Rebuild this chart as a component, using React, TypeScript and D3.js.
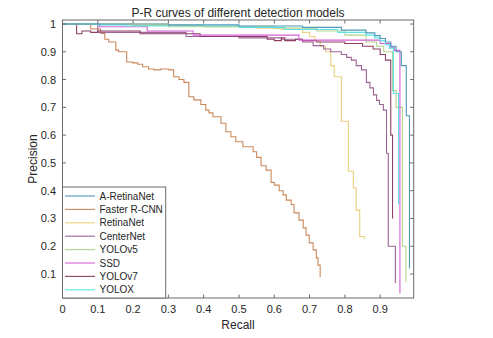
import React from "react";
import * as d3 from "d3";

const W = 493;
const H = 338;

const title = "P-R curves of different detection models";
const xLabel = "Recall";
const yLabel = "Precision";
const xTicks = [0, 0.1, 0.2, 0.3, 0.4, 0.5, 0.6, 0.7, 0.8, 0.9];
const yTicks = [0.1, 0.2, 0.3, 0.4, 0.5, 0.6, 0.7, 0.8, 0.9, 1];

const models = ["A-RetinaNet", "Faster R-CNN", "RetinaNet", "CenterNet", "YOLOv5", "SSD", "YOLOv7", "YOLOX"];
const colors = ["#4e9ab8", "#c9895b", "#e9cf7e", "#9d6496", "#b4d38a", "#d35fd6", "#8e3f66", "#5fe3e6"];

const aRetinaR = [0, 0.3, 0.5, 0.68, 0.79, 0.86, 0.885, 0.9, 0.915, 0.93, 0.945, 0.96, 0.974, 0.983];
const aRetinaP = [1.0, 0.997, 0.993, 0.988, 0.978, 0.968, 0.958, 0.948, 0.935, 0.92, 0.9, 0.85, 0.67, 0.12];

const fasterR = [0, 0.08, 0.108, 0.12, 0.131, 0.151, 0.159, 0.182, 0.199, 0.213, 0.227, 0.244, 0.259, 0.278, 0.301, 0.315, 0.33, 0.344, 0.358, 0.372, 0.392, 0.406, 0.415, 0.426, 0.449, 0.463, 0.477, 0.491, 0.511, 0.54, 0.55, 0.5625, 0.577, 0.591, 0.6, 0.614, 0.625, 0.634, 0.648, 0.656, 0.67, 0.682, 0.69, 0.699, 0.71, 0.719, 0.724, 0.73];
const fasterP = [1.0, 0.982, 0.966, 0.945, 0.935, 0.906, 0.9, 0.863, 0.86, 0.855, 0.846, 0.838, 0.835, 0.838, 0.835, 0.81, 0.8, 0.79, 0.738, 0.727, 0.71, 0.69, 0.68, 0.666, 0.643, 0.612, 0.594, 0.576, 0.558, 0.54, 0.52, 0.49, 0.474, 0.43, 0.42, 0.4, 0.385, 0.366, 0.35, 0.32, 0.294, 0.266, 0.24, 0.212, 0.187, 0.158, 0.132, 0.089];

const retinaR = [0, 0.3, 0.55, 0.62, 0.68, 0.7, 0.715, 0.73, 0.745, 0.76, 0.77, 0.79, 0.81, 0.824, 0.832, 0.842, 0.855];
const retinaP = [1.0, 0.99, 0.985, 0.98, 0.97, 0.955, 0.94, 0.92, 0.9, 0.85, 0.81, 0.65, 0.47, 0.41, 0.33, 0.235, 0.225];

const centerR = [0, 0.1, 0.35, 0.5, 0.62, 0.68, 0.71, 0.74, 0.76, 0.79, 0.805, 0.818, 0.832, 0.847, 0.861, 0.871, 0.881, 0.89, 0.898, 0.909, 0.918, 0.923, 0.943];
const centerP = [1.0, 0.97, 0.955, 0.95, 0.945, 0.935, 0.922, 0.91, 0.9, 0.89, 0.88, 0.87, 0.85, 0.835, 0.79, 0.77, 0.745, 0.725, 0.71, 0.69, 0.535, 0.2, 0.068];

const yolo5R = [0, 0.2, 0.4, 0.6, 0.72, 0.8, 0.86, 0.89, 0.91, 0.935, 0.945, 0.963, 0.973];
const yolo5P = [1.0, 0.995, 0.99, 0.985, 0.975, 0.96, 0.935, 0.92, 0.9, 0.76, 0.7, 0.2, 0.07];

const ssdR = [0.094, 0.105, 0.24, 0.37, 0.67, 0.9, 0.93, 0.94, 0.956];
const ssdP = [1.0, 0.99, 0.975, 0.96, 0.942, 0.93, 0.915, 0.905, 0.03];

const yolo7R = [0, 0.04, 0.055, 0.08, 0.1, 0.22, 0.39, 0.58, 0.6, 0.62, 0.63, 0.66, 0.68, 0.72, 0.8, 0.85, 0.88, 0.9, 0.915, 0.93, 0.935];
const yolo7P = [1.0, 0.965, 0.975, 0.97, 0.975, 0.965, 0.955, 0.945, 0.94, 0.95, 0.94, 0.945, 0.94, 0.935, 0.93, 0.92, 0.91, 0.89, 0.87, 0.6, 0.3];

const yoloxR = [0, 0.1, 0.18, 0.5, 0.63, 0.78, 0.86, 0.885, 0.9, 0.915, 0.926, 0.9375, 0.952];
const yoloxP = [1.0, 0.997, 0.993, 0.988, 0.98, 0.97, 0.96, 0.95, 0.94, 0.925, 0.913, 0.75, 0.35];

const seriesR = [aRetinaR, fasterR, retinaR, centerR, yolo5R, ssdR, yolo7R, yoloxR];
const seriesP = [aRetinaP, fasterP, retinaP, centerP, yolo5P, ssdP, yolo7P, yoloxP];
const drawOrder = [1, 2, 3, 6, 4, 5, 7, 0];

export default function App() {
  const left = 62.5, right = 413.7, top = 20, bottom = 298;
  const x = d3.scaleLinear().domain([0, 0.995]).range([left, right]);
  const y = d3.scaleLinear().domain([0.0137, 1.0144]).range([bottom, top]);
  const line = d3
    .line<[number, number]>()
    .x((d) => x(d[0]))
    .y((d) => y(d[1]))
    .curve(d3.curveStepAfter);
  const axisColor = "#6b6b6b";
  const textColor = "#262626";
  const font = "'Liberation Sans', Arial, sans-serif";
  const tl = 3.5;

  const legendX0 = left, legendX1 = 165.7, legendY0 = 187, legendY1 = bottom;
  const rowY = (i: number) => 196 + i * 13.4;

  return (
    <svg width={W} height={H} style={{ position: "absolute", left: 0, top: 0, background: "#fff" }} fontFamily={font}>
      <defs>
        <clipPath id="plotclip">
          <rect x={left} y={top} width={right - left} height={bottom - top} />
        </clipPath>
      </defs>
      <rect x={0} y={0} width={W} height={H} fill="#fff" />
      <g clipPath="url(#plotclip)">
        {drawOrder.map((i) => {
          const pts: [number, number][] = seriesR[i].map((r, k) => [r, seriesP[i][k]]);
          return <path key={i} d={line(pts) || ""} fill="none" stroke={colors[i]} strokeWidth={1.1} />;
        })}
      </g>
      {/* box */}
      <rect x={left} y={top} width={right - left} height={bottom - top} fill="none" stroke={axisColor} strokeWidth={1} />
      {xTicks.map((t) => (
        <g key={"x" + t}>
          <line x1={x(t)} x2={x(t)} y1={bottom} y2={bottom - tl} stroke={axisColor} />
          <line x1={x(t)} x2={x(t)} y1={top} y2={top + tl} stroke={axisColor} />
          <text x={x(t)} y={313} fontSize={11} textAnchor="middle" fill={textColor}>{String(t)}</text>
        </g>
      ))}
      {yTicks.map((t) => (
        <g key={"y" + t}>
          <line x1={left} x2={left + tl} y1={y(t)} y2={y(t)} stroke={axisColor} />
          <line x1={right} x2={right - tl} y1={y(t)} y2={y(t)} stroke={axisColor} />
          <text x={56} y={y(t) + 4} fontSize={11} textAnchor="end" fill={textColor}>{String(t)}</text>
        </g>
      ))}
      <text x={238} y={16.5} fontSize={12} textAnchor="middle" fill={textColor}>{title}</text>
      <text x={238} y={329} fontSize={12} textAnchor="middle" fill={textColor}>{xLabel}</text>
      <text transform={`translate(37, ${(top + bottom) / 2}) rotate(-90)`} fontSize={12} textAnchor="middle" fill={textColor}>{yLabel}</text>
      {/* legend */}
      <rect x={legendX0} y={legendY0} width={legendX1 - legendX0} height={legendY1 - legendY0} fill="#fff" stroke={axisColor} strokeWidth={1} />
      {models.map((m, i) => (
        <g key={m}>
          <line x1={65} x2={95} y1={rowY(i)} y2={rowY(i)} stroke={colors[i]} strokeWidth={1.1} />
          <text x={99.5} y={rowY(i) + 3.6} fontSize={10} fill={textColor}>{m}</text>
        </g>
      ))}
    </svg>
  );
}
